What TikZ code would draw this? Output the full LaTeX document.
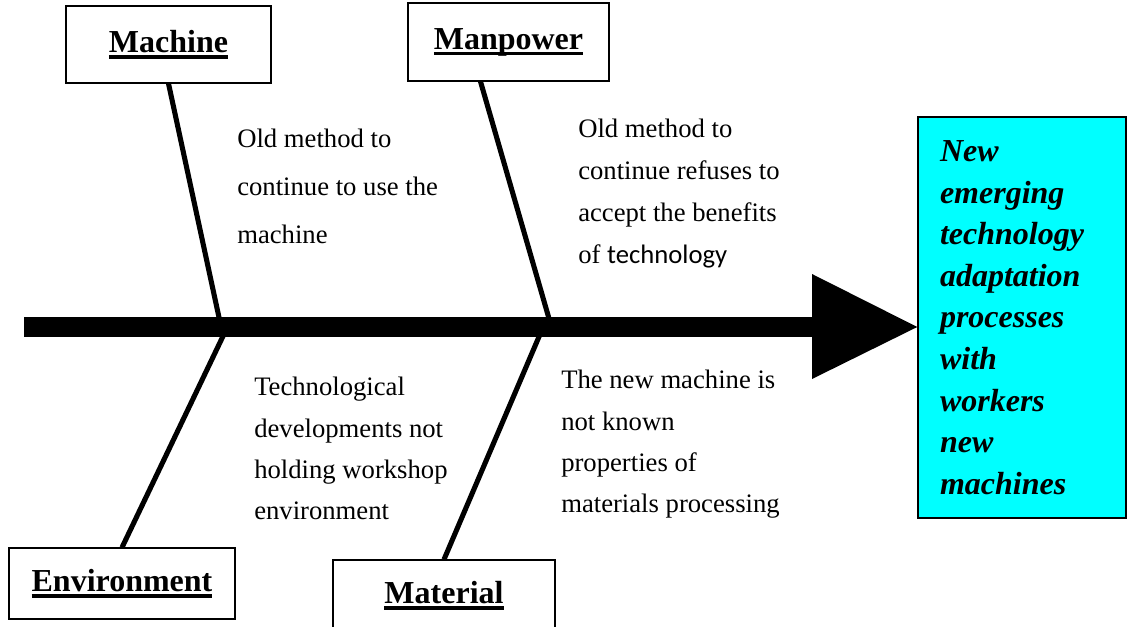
\documentclass[tikz,border=0pt]{standalone}
\usepackage{fontspec}
\setmainfont{Liberation Serif}
\newfontfamily\calfont{Carlito}
\usetikzlibrary{positioning}

\definecolor{effectcyan}{RGB}{0,255,255}

% thick underline for the cause headings
\newcommand{\ulab}[1]{\setbox0\hbox{#1}\rlap{\rule[-4.4pt]{\wd0}{2.4pt}}\box0}

\tikzset{
  causebox/.style={draw, line width=0.8pt, fill=white, inner sep=0pt, font=\fontsize{24}{28}\selectfont\bfseries},
  bone/.style={line width=3.8pt},
  causetext/.style={anchor=north west, inner sep=0pt, align=left},
  effectbox/.style={draw, line width=1.1pt, fill=effectcyan, inner xsep=16.5pt, inner ysep=0pt, text width=123pt, align=left, font=\fontsize{24}{31.2}\selectfont\bfseries\itshape},
}

\begin{document}
\begin{tikzpicture}[x=0.75pt,y=0.75pt,yscale=-1,xscale=1]
        \useasboundingbox (0,0) rectangle (1127,627);

        %Shape: cause boxes
        \node (machine) [causebox, minimum width=153.75pt, minimum height=57.75pt] at (168.5,44.5) {\ulab{Machine}};
        \node (manpower) [causebox, minimum width=150.75pt, minimum height=58.5pt] at (508.5,42) {\ulab{Manpower}};
        \node (environment) [causebox, minimum width=169.5pt, minimum height=53.25pt] at (122,583.5) {\ulab{Environment}};
        \node (material) [causebox, minimum width=166.5pt, minimum height=67.5pt, text height=16pt, text depth=18pt] at (444,605) {\ulab{Material}};

        %Shape: effect box
        \node (effect) [effectbox, minimum height=300.75pt] at (1022,317.5) {New\\emerging\\technology\\adaptation\\processes\\with\\workers\\new\\machines};

        %Shape: spine and head
        \coordinate (tail) at (24,327);
        \coordinate (neck) at (812,327);
        \draw [line width=15pt] (tail) -- (neck);
        \fill ([yshift=39pt]neck) -- (effect.west |- neck) -- ([yshift=-39.75pt]neck) -- cycle;

        %Shape: bones
        \coordinate (j1) at (220,322);
        \coordinate (j2) at (550,322);
        \coordinate (j3) at (225,332);
        \coordinate (j4) at (541,332);
        \draw [bone] (machine.south) -- (j1);
        \draw [bone] ([xshift=-21pt]manpower.south) -- (j2);
        \draw [bone] (environment.north) -- (j3);
        \draw [bone] (material.north) -- (j4);

        % Text Node
        \node (mtext) [causetext, font=\fontsize{20}{36}\selectfont] at (237,129) {Old method to\\continue to use the\\machine};
        % Text Node
        \node (ptext) [causetext, font=\fontsize{20}{31.5}\selectfont] at (578,119) {Old method to\\continue refuses to\\accept the benefits\\of {\calfont technology}};
        % Text Node
        \node (etext) [causetext, font=\fontsize{20}{31}\selectfont] at (254,377) {Technological\\developments not\\holding workshop\\environment};
        % Text Node
        \node (atext) [causetext, font=\fontsize{20}{31}\selectfont] at (561,370) {The new machine is\\not known\\properties of\\materials processing};

\end{tikzpicture}
\end{document}
